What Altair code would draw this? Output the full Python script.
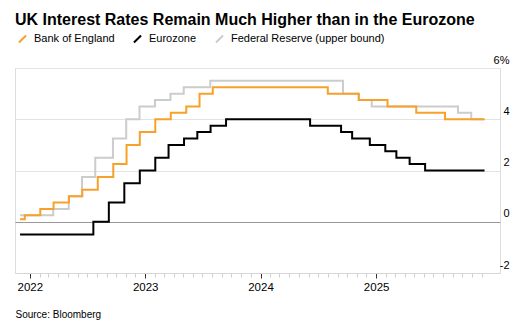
import altair as alt
import pandas as pd

FONT = "Liberation Sans, Arial, Helvetica, sans-serif"

series_names = ["Bank of England", "Eurozone", "Federal Reserve (upper bound)"]
series_colors = ["#f8a12a", "#000000", "#cccccc"]

boe_dates = ["2021-12-01", "2021-12-16", "2022-02-03", "2022-03-17", "2022-05-05",
             "2022-06-16", "2022-08-04", "2022-09-22", "2022-11-03", "2022-12-15",
             "2023-02-02", "2023-03-23", "2023-05-11", "2023-06-22", "2023-08-03",
             "2024-08-01", "2024-11-07", "2025-02-06", "2025-05-08", "2025-08-07"]
boe_rates = [0.1, 0.25, 0.5, 0.75, 1.0, 1.25, 1.75, 2.25, 3.0, 3.5,
             4.0, 4.25, 4.5, 5.0, 5.25, 5.0, 4.75, 4.5, 4.25, 4.0]

ecb_dates = ["2021-12-01", "2022-07-21", "2022-09-08", "2022-10-27", "2022-12-15",
             "2023-02-02", "2023-03-16", "2023-05-04", "2023-06-15", "2023-07-27",
             "2023-09-14", "2024-06-06", "2024-09-12", "2024-10-17", "2024-12-12",
             "2025-01-30", "2025-03-06", "2025-04-17", "2025-06-05"]
ecb_rates = [-0.5, 0.0, 0.75, 1.5, 2.0, 2.5, 3.0, 3.25, 3.5, 3.75,
             4.0, 3.75, 3.5, 3.25, 3.0, 2.75, 2.5, 2.25, 2.0]

fed_dates = ["2021-12-01", "2022-03-16", "2022-05-04", "2022-06-15", "2022-07-27",
             "2022-09-21", "2022-11-02", "2022-12-14", "2023-02-01", "2023-03-22",
             "2023-05-03", "2023-07-26", "2024-09-18", "2024-11-07", "2024-12-18",
             "2025-09-17", "2025-10-29"]
fed_rates = [0.25, 0.5, 1.0, 1.75, 2.5, 3.25, 4.0, 4.5, 4.75, 5.0,
             5.25, 5.5, 5.0, 4.75, 4.5, 4.25, 4.0]

end_date = "2025-12-10"

y_ticks = [-2, 0, 2, 4, 6]

rows = []
for name, dates, rates in [(series_names[0], boe_dates, boe_rates),
                           (series_names[1], ecb_dates, ecb_rates),
                           (series_names[2], fed_dates, fed_rates)]:
    for d, r in zip(dates, rates):
        rows.append({"series": name, "date": d + "T00:00:00", "rate": r})
    rows.append({"series": name, "date": end_date + "T00:00:00", "rate": rates[-1]})
df = pd.DataFrame(rows)

month_ticks = [alt.DateTime(year=y, month=m, date=1)
               for y in range(2022, 2026) for m in range(1, 13)]

x_enc = alt.X(
    "date:T",
    scale=alt.Scale(domain=[alt.DateTime(year=2021, month=11, date=15),
                            alt.DateTime(year=2026, month=1, date=28)]),
    axis=alt.Axis(
        values=month_ticks,
        labelExpr="month(datum.value) == 0 ? timeFormat(datum.value, '%Y') : ''",
        grid=False,
        domainColor="#d6d6d6",
        domainWidth=1,
        tickColor={"condition": {"test": "month(datum.value) == 0", "value": "#333333"},
                   "value": "#d0d0d0"},
        tickSize={"condition": {"test": "month(datum.value) == 0", "value": 5},
                  "value": 4},
        tickWidth=1,
        labelFontSize=11.5,
        labelFont=FONT,
        labelColor="#000000",
        labelPadding=3,
        labelFlush=False,
        labelOverlap=False,
        title="Source: Bloomberg",
        titleFont=FONT,
        titleFontSize=10,
        titleFontWeight="normal",
        titleColor="#000000",
        titleX=0,
        titleY=44,
        titleAlign="left",
        titleAnchor="start",
        titleBaseline="alphabetic",
    ),
)

y_enc = alt.Y(
    "rate:Q",
    scale=alt.Scale(domain=[-2, 6], nice=False),
    axis=alt.Axis(
        orient="right",
        values=y_ticks,
        labelExpr="datum.value == 6 ? '6%' : '' + datum.value",
        ticks=False,
        tickSize=0,
        domain=False,
        grid=True,
        gridColor={"condition": {"test": "datum.value == 0", "value": "#999999"},
                   "value": "#e3e3e3"},
        gridWidth=1.2,
        labelAlign="right",
        labelBaseline="alphabetic",
        labelPadding=9,
        labelOffset=-5,
        labelFontSize=11,
        labelFont=FONT,
        labelColor="#000000",
        title=None,
    ),
)

color_enc = alt.Color(
    "series:N",
    scale=alt.Scale(domain=series_names, range=series_colors),
    legend=alt.Legend(
        orient="none",
        legendX=2,
        legendY=-35,
        direction="horizontal",
        title=None,
        symbolType="M-1,1L1,-1",
        symbolSize=50,
        symbolStrokeWidth=2,
        labelFontSize=11,
        labelFont=FONT,
        labelColor="#000000",
        labelOffset=6,
        labelLimit=400,
        columnPadding=14,
    ),
)

base = alt.Chart(df).mark_line(interpolate="step-after", strokeWidth=2).encode(
    x=x_enc, y=y_enc, color=color_enc
)

layers = [base.transform_filter(alt.datum.series == n) for n in
          [series_names[2], series_names[0], series_names[1]]]

chart = alt.layer(*layers).properties(
    width=485,
    height=205,
    title=alt.Title(
        "UK Interest Rates Remain Much Higher than in the Eurozone",
        anchor="start",
        frame="group",
        font=FONT,
        fontSize=16,
        fontWeight="bold",
        color="#000000",
        offset=5,
    ),
    autosize=alt.AutoSizeParams(type="none"),
    padding={"left": 15, "top": 68, "right": 28, "bottom": 54},
).configure_view(stroke=None).configure(background="#ffffff")

chart.save("out.html", embed_options={"renderer": "svg", "actions": False})
